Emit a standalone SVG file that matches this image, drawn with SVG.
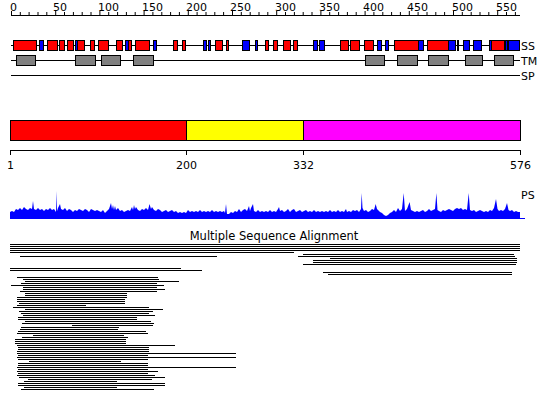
<svg xmlns="http://www.w3.org/2000/svg" width="550" height="411" viewBox="0 0 550 411">
<style>
text{font-family:"DejaVu Sans","Liberation Sans",sans-serif;font-size:11px;fill:#000}
.ax{stroke:#000;stroke-width:1;fill:none}
.r{fill:#ff0000;stroke:#000;stroke-width:1}
.b{fill:#0000ff;stroke:#000;stroke-width:1}
.g{fill:#808080;stroke:#000;stroke-width:1}
.msa{stroke:#000;stroke-width:1.1;fill:none}
</style>
<rect width="550" height="411" fill="#fff"/>
<g id="ruler">
<path class="ax" d="M11,15.5H520"/>
<path class="ax" d="M11.5,11V15M20.3,12V15M29.1,12V15M38,12V15M46.8,12V15M55.7,11V15M64.5,12V15M73.4,12V15M82.2,12V15M91,12V15M99.9,11V15M108.7,12V15M117.6,12V15M126.4,12V15M135.2,12V15M144.1,11V15M152.9,12V15M161.8,12V15M170.6,12V15M179.4,12V15M188.3,11V15M197.1,12V15M206,12V15M214.8,12V15M223.6,12V15M232.5,11V15M241.3,12V15M250.2,12V15M259,12V15M267.8,12V15M276.7,11V15M285.5,12V15M294.4,12V15M303.2,12V15M312,12V15M320.9,11V15M329.7,12V15M338.6,12V15M347.4,12V15M356.2,12V15M365.1,11V15M373.9,12V15M382.8,12V15M391.6,12V15M400.4,12V15M409.3,11V15M418.1,12V15M427,12V15M435.8,12V15M444.6,12V15M453.5,11V15M462.3,12V15M471.2,12V15M480,12V15M488.8,12V15M497.7,11V15M506.5,12V15M515.4,12V15"/>
<text x="10" y="11">0</text>
<text x="53" y="11">50</text>
<text x="98" y="11">100</text>
<text x="142" y="11">150</text>
<text x="186" y="11">200</text>
<text x="230" y="11">250</text>
<text x="275" y="11">300</text>
<text x="319" y="11">350</text>
<text x="363" y="11">400</text>
<text x="407" y="11">450</text>
<text x="452" y="11">500</text>
<text x="496" y="11">550</text>
</g>
<g id="ss-track">
<path class="ax" d="M11,45.5H520"/>
<rect class="r" x="13.5" y="40.5" width="23" height="10"/>
<rect class="b" x="39.5" y="40.5" width="4" height="10"/>
<rect class="r" x="47.5" y="40.5" width="10" height="10"/>
<rect class="r" x="59.5" y="40.5" width="5" height="10"/>
<rect class="r" x="67.5" y="40.5" width="6" height="10"/>
<rect class="b" x="75.5" y="40.5" width="2" height="10"/>
<rect class="r" x="77.5" y="40.5" width="7" height="10"/>
<rect class="r" x="90.5" y="40.5" width="4" height="10"/>
<rect class="r" x="98.5" y="40.5" width="10" height="10"/>
<rect class="r" x="116.5" y="40.5" width="6" height="10"/>
<rect class="b" x="125.5" y="40.5" width="3" height="10"/>
<rect class="r" x="128.5" y="40.5" width="3" height="10"/>
<rect class="r" x="135.5" y="40.5" width="14" height="10"/>
<rect class="b" x="153.5" y="40.5" width="3" height="10"/>
<rect class="r" x="173.5" y="40.5" width="4" height="10"/>
<rect class="r" x="182.5" y="40.5" width="3" height="10"/>
<rect class="b" x="203.5" y="40.5" width="3" height="10"/>
<rect class="b" x="208.5" y="40.5" width="2" height="10"/>
<rect class="r" x="215.5" y="40.5" width="7" height="10"/>
<rect class="r" x="226.5" y="40.5" width="2" height="10"/>
<rect class="b" x="242.5" y="40.5" width="7" height="10"/>
<rect class="b" x="255.5" y="40.5" width="2" height="10"/>
<rect class="r" x="265.5" y="40.5" width="3" height="10"/>
<rect class="r" x="273.5" y="40.5" width="4" height="10"/>
<rect class="r" x="283.5" y="40.5" width="7" height="10"/>
<rect class="r" x="293.5" y="40.5" width="4" height="10"/>
<rect class="b" x="313.5" y="40.5" width="4" height="10"/>
<rect class="b" x="319.5" y="40.5" width="5" height="10"/>
<rect class="r" x="340.5" y="40.5" width="8" height="10"/>
<rect class="r" x="350.5" y="40.5" width="9" height="10"/>
<rect class="r" x="364.5" y="40.5" width="9" height="10"/>
<rect class="b" x="377.5" y="40.5" width="4" height="10"/>
<rect class="b" x="385.5" y="40.5" width="3" height="10"/>
<rect class="r" x="394.5" y="40.5" width="24" height="10"/>
<rect class="b" x="418.5" y="40.5" width="5" height="10"/>
<rect class="r" x="427.5" y="40.5" width="21" height="10"/>
<rect class="b" x="448.5" y="40.5" width="7" height="10"/>
<rect class="b" x="457.5" y="40.5" width="1" height="10"/>
<rect class="b" x="463.5" y="40.5" width="6" height="10"/>
<rect class="b" x="473.5" y="40.5" width="8" height="10"/>
<rect class="b" x="489.5" y="40.5" width="2" height="10"/>
<rect class="r" x="491.5" y="40.5" width="13" height="10"/>
<rect class="b" x="505.5" y="40.5" width="2" height="10"/>
<rect class="b" x="508.5" y="40.5" width="11" height="10"/>
<text x="521" y="50">SS</text>
</g>
<g id="tm-track">
<path class="ax" d="M11,60.5H520"/>
<rect class="g" x="16.5" y="55.5" width="19" height="10"/>
<rect class="g" x="75.5" y="55.5" width="20" height="10"/>
<rect class="g" x="101.5" y="55.5" width="19" height="10"/>
<rect class="g" x="133.5" y="55.5" width="20" height="10"/>
<rect class="g" x="365.5" y="55.5" width="19" height="10"/>
<rect class="g" x="397.5" y="55.5" width="20" height="10"/>
<rect class="g" x="428.5" y="55.5" width="20" height="10"/>
<rect class="g" x="465.5" y="55.5" width="17" height="10"/>
<rect class="g" x="494.5" y="55.5" width="19" height="10"/>
<text x="521" y="65">TM</text>
</g>
<g id="sp-track">
<path class="ax" d="M11,75.5H520"/>
<text x="521" y="80">SP</text>
</g>
<g id="domains">
<rect x="10.5" y="120.5" width="176" height="20" fill="#ff0000" stroke="#000"/>
<rect x="186.5" y="120.5" width="117" height="20" fill="#ffff00" stroke="#000"/>
<rect x="303.5" y="120.5" width="217" height="20" fill="#ff00ff" stroke="#000"/>
<path class="ax" d="M10.5,150.5H520.5M10.5,150V155M186.5,150V155M303.5,150V155M520.5,150V155"/>
<text x="10.5" y="169" text-anchor="middle">1</text>
<text x="186.5" y="169" text-anchor="middle">200</text>
<text x="303.5" y="169" text-anchor="middle">332</text>
<text x="520.5" y="169" text-anchor="middle">576</text>
</g>
<g id="ps-plot">
<path fill="#0000ff" d="M10,219 L10,212 12,211 14,212 16,209 18,210 20,208 22,210 24,207 26,209 28,210 30,208 32,209 33,201 34,209 36,210 38,208 40,210 42,209 44,211 46,209 48,210 50,208 52,210 54,209 56,212 56.5,191 57,211 58,208 60,204 61,209 63,210 65,208 67,211 69,209 71,210 73,212 75,210 77,211 79,209 81,210 83,211 85,209 87,210 89,212 91,209 93,210 95,211 97,210 99,211 101,212 103,210 105,213 107,211 109,209 111,203 112,209 113,205 114,210 115,206 116,210 118,208 120,211 122,210 124,212 126,211 128,210 130,211 132,207 133,210 134,205 135,209 136,207 138,210 140,211 142,209 144,210 146,208 148,210 149.5,204 151,209 152,207 154,210 156,211 158,209 160,210 162,212 164,211 166,210 168,212 170,211 172,210 174,212 176,211 178,213 180,212 182,213 184,212 186,213 188,210 190,212 192,211 194,212 196,211 198,212 200,210 202,212 204,211 206,212 208,211 210,212 212,210 214,212 216,211 218,212 220,211 222,212 224,211 225,213 226,204 227,214 229,214 231,212 233,213 235,211 237,212 239,209 241,212 243,210 245,209 247,211 249,206 250,211 251,208 253,204 254,211 256,212 258,210 260,212 262,211 264,212 266,211 268,212 270,210 272,212 274,211 276,212 278,209 279,207 280,211 282,210 284,212 286,211 288,209 290,212 292,210 294,209 296,212 298,211 300,210 302,212 304,211 306,210 308,212 310,211 312,212 314,210 316,212 318,211 320,212 322,211 324,212 326,211 328,212 330,210 332,212 334,211 336,212 338,210 340,212 342,211 344,212 346,209 347,212 349,211 351,212 353,210 355,211 357,210 359,212 361,209 361.7,193 362.5,208 364,211 366,210 368,212 370,211 372,209 374,210 375.7,204 377,209 378,210 380,212 382,213 384,215 386,216 388,215 390,213 392,212 394,210 396,212 398,208 400,211 402,209 403.7,193 405,211 407,209 409.6,202 411,210 413,211 415,212 417,211 419,212 421,211 423,210 425,212 427,211 429,209 431,211 433,210 435,209 436.4,193 437.5,210 439,211 441,212 443,210 445,211 447,210 449,209 451,210 453,211 455,209 457,208 459,209 461,208 463,210 465,209 467,210 468.7,193 470,210 472,211 474,210 476,212 478,211 480,210 482,211 484,212 486,211 488,212 490,210 492,211 494,208 496,199 497.5,209 499,211 501,210 503,211 505,209 507,203 508.5,210 510,211 512,210 514,212 516,211 518,212 520,212 520,219 Z"/>
<path d="M10,218.5H525" stroke="#0000ff" stroke-width="1"/>
<text x="521" y="199">PS</text>
</g>
<g id="msa">
<text x="274" y="240" text-anchor="middle" style="font-size:11.5px">Multiple Sequence Alignment</text>
<path class="msa" d="M10,244.5H520M10,246.5H520M10,248.5H520M10,250.5H520M10,252.5H294M303,254.5H514M20,256.5H217M298,256.5H515M330,258.5H517M313,260.5H517M313,262.5H517M303,264.5H516M10,268.5H181M10,270.5H202M323,272.5H512M328,274.5H512
M17,277.5H158M23,279.5H159M25,281.5H179M21,283.5H157M11,285.5H164M23,287.5H157M23,289.5H165M20,291.5H157M25,293.5H127M25,295.5H127M17,297.5H127M17,299.5H125M17,301.5H125M19,303.5H125M17,305.5H86M13,307.5H149M25,309.5H163M19,311.5H153M21,313.5H149M23,315.5H155M18,317.5H137M18,319.5H137M25,321.5H151M22,323.5H154M72,325.5H153M21,327.5H119M20,329.5H118M18,331.5H146M17,333.5H148M33,335.5H124M22,337.5H128M15,339.5H126M15,341.5H126M15,343.5H126M17,345.5H175M18,347.5H149M18,349.5H149M17,351.5H149M17,353.5H236M18,355.5H148M17,357.5H236M18,359.5H148M29,361.5H121M18,363.5H148M18,365.5H148M17,367.5H236M18,369.5H148M17,371.5H158M18,373.5H148M17,375.5H155M19,377.5H165M28,379.5H152M24,381.5H117M18,383.5H165M18,385.5H165M24,387.5H117M21,389.5H154"/>
</g>
</svg>
